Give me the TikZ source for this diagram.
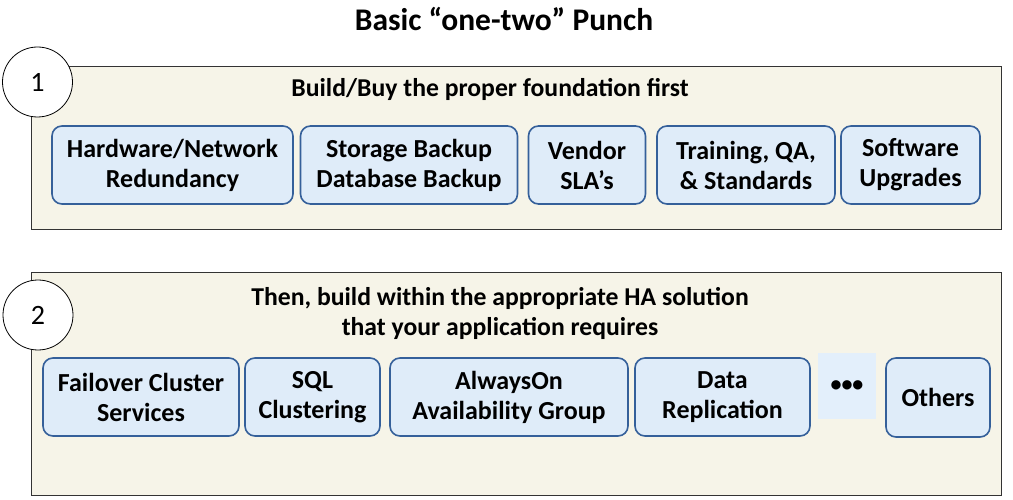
\documentclass[tikz,border=0pt]{standalone}
\usepackage{fontspec}
\setmainfont{Carlito}
\begin{document}
\begin{tikzpicture}[x=1pt,y=-1pt,
  panel/.style={draw=black!80,line width=0.8pt,fill=cream},
  numcircle/.style={circle,draw=black,line width=0.8pt,fill=white,minimum size=70pt,inner sep=0pt,font=\fontsize{28}{30}\selectfont},
  item/.style={draw=boxblue,line width=1.6pt,fill=boxfill,rounded corners=10pt,inner sep=0pt,align=center,font=\bfseries\fontsize{26}{30}\selectfont},
  ptitle/.style={align=center,font=\bfseries\fontsize{25.7}{30}\selectfont}]
\definecolor{cream}{HTML}{F6F4E8}
\definecolor{boxfill}{HTML}{DFECF9}
\definecolor{boxblue}{HTML}{35609A}
\definecolor{dotfill}{HTML}{E3EFFB}
\useasboundingbox (0,0) rectangle (1013,500);
\fill[white] (0,0) rectangle (1013,500);
\node[font=\bfseries\fontsize{31.5}{34}\selectfont] (title) at (504,19) {Basic “one-two” Punch};
% panel 1
\node[panel,minimum width=970pt,minimum height=163pt,inner sep=0pt] (p1) at (516,147.5) {};
\node[numcircle] (c1) at (37.5,82) {1};
\node[ptitle] (t1) at (490,89) {Build/Buy the proper foundation first};
\node[item,minimum width=241pt,minimum height=78pt] (a1) at (172.5,165) {Hardware/Network\\Redundancy};
\node[item,minimum width=217pt,minimum height=78pt] (a2) at (409,165) {Storage Backup\\Database Backup};
\node[item,minimum width=117pt,minimum height=78pt] (a3) at (587,165) {Vendor\\SLA’s};
\node[item,minimum width=178pt,minimum height=78pt] (a4) at (746,165) {Training, QA,\\\& Standards};
\node[item,minimum width=139pt,minimum height=78pt] (a5) at (910.5,165) {Software\\Upgrades};
% panel 2
\node[panel,minimum width=970pt,minimum height=223pt,inner sep=0pt] (p2) at (516,383.5) {};
\node[numcircle] (c2) at (38,315) {2};
\node[ptitle] (t2) at (500,313) {Then, build within the appropriate HA solution\\that your application requires};
\node[item,minimum width=196pt,minimum height=78pt] (b1) at (141,397) {Failover Cluster\\Services};
\node[item,minimum width=135pt,minimum height=78pt] (b2) at (312.5,397) {SQL\\Clustering};
\node[item,minimum width=238pt,minimum height=78pt] (b3) at (509,397) {AlwaysOn\\Availability Group};
\node[item,minimum width=175pt,minimum height=78pt] (b4) at (722.5,397) {Data\\Replication};
\node[fill=dotfill,minimum width=58pt,minimum height=66pt,inner sep=0pt,font=\bfseries\fontsize{22}{30}\selectfont] (b5) at (847,386) {•••};
\node[item,minimum width=104pt,minimum height=79pt] (b6) at (938,397.5) {Others};
\end{tikzpicture}
\end{document}
